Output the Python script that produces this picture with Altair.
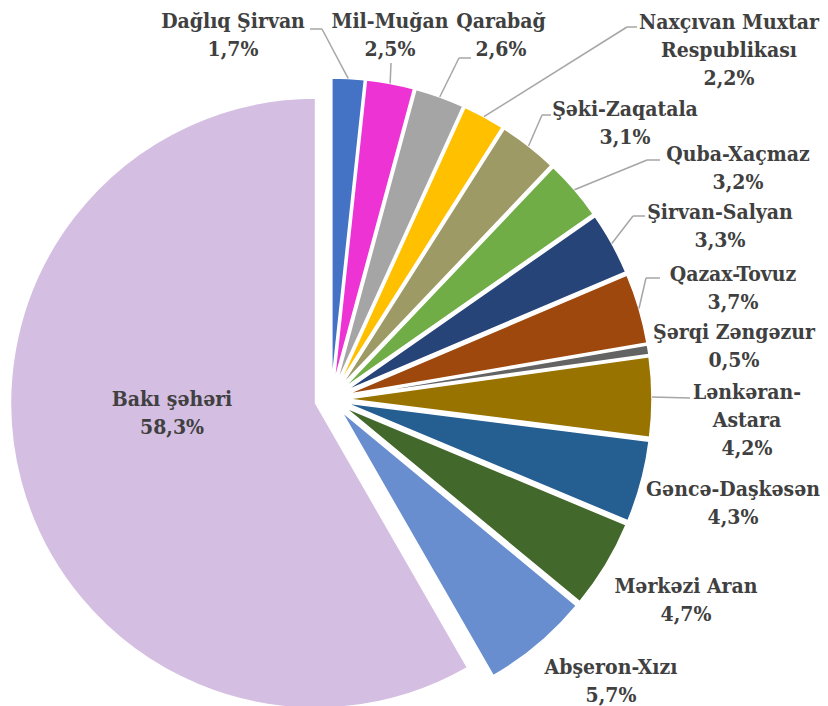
import altair as alt
import pandas as pd

# ---- data ----
names = ["Dağlıq Şirvan", "Mil-Muğan", "Qarabağ", "Naxçıvan Muxtar Respublikası",
         "Şəki-Zaqatala", "Quba-Xaçmaz", "Şirvan-Salyan", "Qazax-Tovuz",
         "Şərqi Zəngəzur", "Lənkəran-Astara", "Gəncə-Daşkəsən", "Mərkəzi Aran",
         "Abşeron-Xızı", "Bakı şəhəri"]
values = [1.7, 2.5, 2.6, 2.2, 3.1, 3.2, 3.3, 3.7, 0.5, 4.2, 4.3, 4.7, 5.7, 58.3]
label_names = ["Dağlıq Şirvan", "Mil-Muğan", "Qarabağ", "Naxçıvan Muxtar\nRespublikası",
               "Şəki-Zaqatala", "Quba-Xaçmaz", "Şirvan-Salyan", "Qazax-Tovuz",
               "Şərqi Zəngəzur", "Lənkəran-\nAstara", "Gəncə-Daşkəsən", "Mərkəzi Aran",
               "Abşeron-Xızı", "Bakı şəhəri"]

# ---- styles ----
colors = ["#4472C4", "#EE33D4", "#A5A5A5", "#FFC000", "#9E9A66", "#70AD47", "#264478",
          "#9E480E", "#636363", "#997300", "#255E91", "#43682B", "#698ED0", "#D4BEE2"]

# ---- layout (chart pixels; label y = centre of first text line) ----
CX, CY, R, D = 323, 391, 305, 16
label_x = [225, 382, 493, 721, 617, 730, 712, 725, 726, 739, 725, 678, 603, 164]
label_y = [14, 14, 14, 15, 102, 147, 205, 267, 325, 385, 482, 579, 660, 392]
elbow_x = [314, 383, 451, 619, 534, 639, 625, 638, None, 682, None, None, None, None]
elbow_y = [21, 55, 50, 19, 107, 152, 208, 270, None, 390, None, None, None, None]
end_x = [302, 383, 463, 629, 543, 652, 637, 652, None, 682, None, None, None, None]
end_y = [21, 55, 50, 19, 107, 152, 208, 270, None, 390, None, None, None, None]

df = pd.DataFrame({
    "order": list(range(len(names))),
    "name": names,
    "value": values,
    "label": [f"{n}\n{v:.1f}%".replace(".", ",") for n, v in zip(label_names, values)],
    "lx": label_x, "ly": label_y,
    "ex": elbow_x, "ey": elbow_y,
    "fx": end_x, "fy": end_y,
})

base = (
    alt.Chart(df)
    .transform_window(cum="sum(value)", sort=[alt.SortField("order")], frame=[None, 0])
    .transform_joinaggregate(total="sum(value)")
    .transform_calculate(t0="(datum.cum - datum.value) / datum.total * 2 * PI")
    .transform_calculate(t1="datum.cum / datum.total * 2 * PI")
    .transform_calculate(mid="(datum.t0 + datum.t1) / 2")
    .transform_calculate(cx=f"{CX} + {D} * sin(datum.mid)")
    .transform_calculate(cy=f"{CY} - {D} * cos(datum.mid)")
    .transform_calculate(sx=f"{CX} + {R + D} * sin(datum.mid)")
    .transform_calculate(sy=f"{CY} - {R + D} * cos(datum.mid)")
)

arcs = base.mark_arc(radius=R, stroke="white", strokeWidth=1.5).encode(
    theta=alt.Theta("t0:Q", scale=None, stack=None),
    theta2="t1:Q",
    x=alt.X("cx:Q", scale=None, axis=None),
    y=alt.Y("cy:Q", scale=None, axis=None),
    color=alt.Color("name:N", scale=alt.Scale(domain=names, range=colors), legend=None),
)

leaders = base.transform_filter("isValid(datum.ex)")
lead1 = leaders.mark_rule(color="#A6A6A6", strokeWidth=1.5).encode(
    x=alt.X("sx:Q", scale=None, axis=None),
    y=alt.Y("sy:Q", scale=None, axis=None),
    x2="ex:Q", y2="ey:Q",
)
lead2 = leaders.mark_rule(color="#A6A6A6", strokeWidth=1.5).encode(
    x=alt.X("ex:Q", scale=None, axis=None),
    y=alt.Y("ey:Q", scale=None, axis=None),
    x2="fx:Q", y2="fy:Q",
)

texts = base.mark_text(
    font="DejaVu Serif Condensed", fontWeight="bold", fontSize=21, color="#404040",
    align="center", baseline="middle", lineBreak="\n", lineHeight=28,
).encode(
    x=alt.X("lx:Q", scale=None, axis=None),
    y=alt.Y("ly:Q", scale=None, axis=None),
    text="label:N",
)

chart = (
    alt.layer(arcs, lead1, lead2, texts)
    .properties(width=812, height=698, autosize="none", padding=0, background="white")
    .configure_view(stroke=None)
)

chart.save("out.html", embed_options={"renderer": "svg", "actions": False})
